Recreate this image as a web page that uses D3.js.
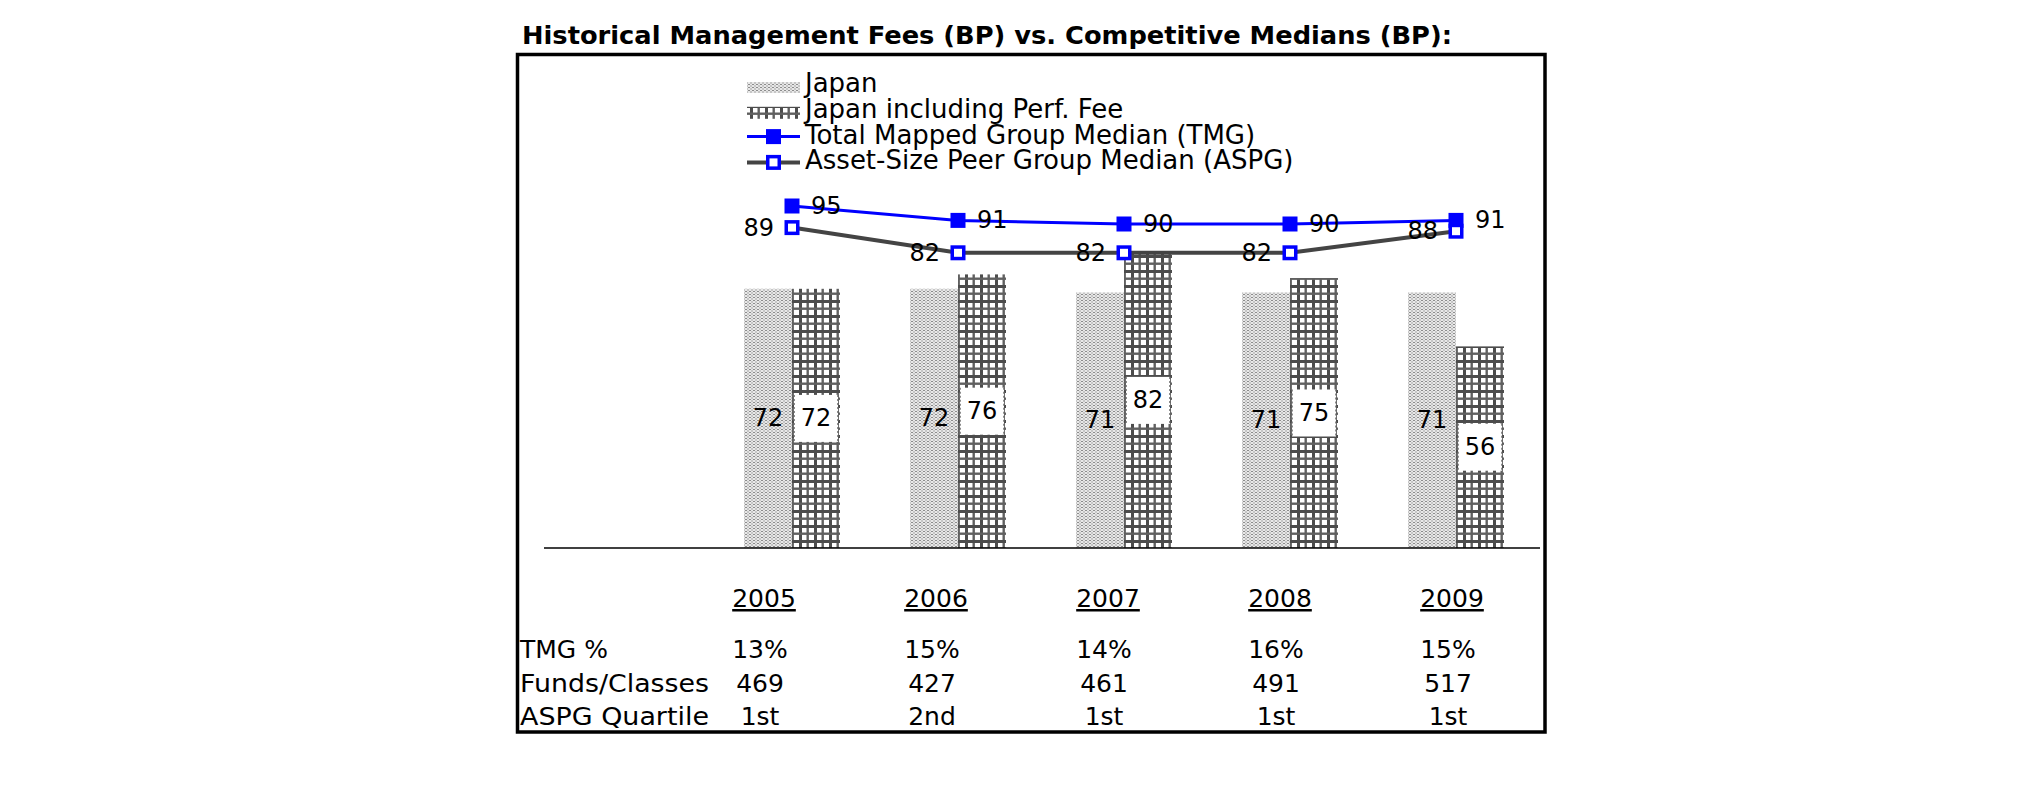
<!DOCTYPE html>
<html><head><meta charset="utf-8">
<script src="https://cdn.jsdelivr.net/npm/d3@7"></script>
<style>
html,body{margin:0;padding:0;background:#fff;}
svg{display:block;}
text{font-family:"DejaVu Sans",Verdana,sans-serif;fill:#000;}
</style></head>
<body>
<script>
// ---- data ----
const years = ["2005","2006","2007","2008","2009"];
const japan = [72, 72, 71, 71, 71];
const japanPerf = [72, 76, 82, 75, 56];
const tmgMedian = [95, 91, 90, 90, 91];
const aspgMedian = [89, 82, 82, 82, 88];
const tmgPct = ["13%","15%","14%","16%","15%"];
const fundsClasses = ["469","427","461","491","517"];
const aspgQuartile = ["1st","2nd","1st","1st","1st"];
const rowLabels = ["TMG %","Funds/Classes","ASPG Quartile"];
const seriesKeys = ["japan","perf"];
const legendLabels = ["Japan","Japan including Perf. Fee","Total Mapped Group Median (TMG)","Asset-Size Peer Group Median (ASPG)"];
const title = "Historical Management Fees (BP) vs. Competitive Medians (BP):";

const W = 2025, H = 806;
const svg = d3.select("body").append("svg").attr("width", W).attr("height", H);
const defs = svg.append("defs");

// patterns
const pj = defs.append("pattern").attr("id","pJapan").attr("patternUnits","userSpaceOnUse")
  .attr("width",4).attr("height",3);
pj.append("rect").attr("width",4).attr("height",3).attr("fill","#e8e8e8");
pj.append("rect").attr("x",0).attr("y",0).attr("width",2).attr("height",1).attr("fill","#8c8c8c");
pj.append("rect").attr("x",2).attr("y",1.5).attr("width",2).attr("height",1).attr("fill","#a4a4a4");

const pp = defs.append("pattern").attr("id","pPerf").attr("patternUnits","userSpaceOnUse")
  .attr("width",15).attr("height",15);
pp.append("rect").attr("width",15).attr("height",15).attr("fill","#ffffff");
pp.append("rect").attr("x",0).attr("y",0).attr("width",3).attr("height",15).attr("fill","#4c4c4c");
pp.append("rect").attr("x",7.5).attr("y",0).attr("width",2.4).attr("height",15).attr("fill","#606060");
pp.append("rect").attr("x",0).attr("y",0).attr("width",15).attr("height",3).attr("fill","#4c4c4c");
pp.append("rect").attr("x",0).attr("y",7.5).attr("width",15).attr("height",2.4).attr("fill","#606060");

// title
svg.append("text").attr("x",522).attr("y",44).attr("font-size",24).attr("font-weight","bold")
  .attr("textLength",930).attr("lengthAdjust","spacingAndGlyphs").text(title);

// frame
svg.append("rect").attr("x",517.5).attr("y",54.5).attr("width",1027.5).attr("height",677.5)
  .attr("fill","none").attr("stroke","#000").attr("stroke-width",3.5);

// scales
const x0 = d3.scaleBand().domain(years).range([709, 1539]).padding(0);
const half = x0.bandwidth()/2;
const x1 = d3.scaleBand().domain(seriesKeys).range([half-48, half+48]).padding(0);
const y = d3.scaleLinear().domain([0,100]).range([548,188]);

// bars
const barData = years.map((yr,i)=>({yr, japan: japan[i], perf: japanPerf[i]}));
const g = svg.append("g");
const grp = g.selectAll("g.year").data(barData).join("g").attr("class","year")
  .attr("transform", d=>`translate(${x0(d.yr)},0)`);
grp.append("rect").attr("x",x1("japan")).attr("width",x1.bandwidth())
  .attr("y",d=>y(d.japan)).attr("height",d=>y(0)-y(d.japan)).attr("fill","url(#pJapan)");
grp.append("rect").attr("x",x1("perf")).attr("width",x1.bandwidth())
  .attr("y",d=>y(d.perf)).attr("height",d=>y(0)-y(d.perf)).attr("fill","url(#pPerf)");

// japan labels
grp.append("text").attr("x",x1("japan")+x1.bandwidth()/2).attr("y",d=>(y(d.japan)+y(0))/2)
  .attr("text-anchor","middle").attr("dominant-baseline","central").attr("font-size",24)
  .text(d=>d.japan);
// perf labels with white box
const bh = 47;
grp.append("rect").attr("x",x1("perf")+2).attr("width",x1.bandwidth()-4)
  .attr("y",d=>(y(d.perf)+y(0))/2-bh/2).attr("height",bh).attr("fill","#fff");
grp.append("line").attr("x1",x1("perf")+2).attr("x2",x1("perf")+2)
  .attr("y1",d=>(y(d.perf)+y(0))/2-bh/2).attr("y2",d=>(y(d.perf)+y(0))/2+bh/2)
  .attr("stroke","#666").attr("stroke-width",1.5).attr("stroke-dasharray","2,2");
grp.append("line").attr("x1",x1("perf")+x1.bandwidth()-2).attr("x2",x1("perf")+x1.bandwidth()-2)
  .attr("y1",d=>(y(d.perf)+y(0))/2-bh/2).attr("y2",d=>(y(d.perf)+y(0))/2+bh/2)
  .attr("stroke","#666").attr("stroke-width",1.5).attr("stroke-dasharray","2,2");
grp.append("text").attr("x",x1("perf")+x1.bandwidth()/2).attr("y",d=>(y(d.perf)+y(0))/2)
  .attr("text-anchor","middle").attr("dominant-baseline","central").attr("font-size",24)
  .text(d=>d.perf);

// baseline
svg.append("line").attr("x1",544).attr("x2",1540).attr("y1",y(0)).attr("y2",y(0))
  .attr("stroke","#000").attr("stroke-width",1.5);

// lines
const cx = yr => x0(yr) + half;
const lineGen = d3.line().x(d=>cx(d.yr)).y(d=>y(d.v));
const tmgData = years.map((yr,i)=>({yr, v: tmgMedian[i]}));
const aspgData = years.map((yr,i)=>({yr, v: aspgMedian[i]}));
svg.append("path").datum(aspgData).attr("d",lineGen).attr("fill","none").attr("stroke","#444").attr("stroke-width",4);
svg.append("path").datum(tmgData).attr("d",lineGen).attr("fill","none").attr("stroke","#0000ff").attr("stroke-width",3);
const ms = 15;
svg.selectAll("rect.tmgm").data(tmgData).join("rect").attr("class","tmgm")
  .attr("x",d=>cx(d.yr)-ms/2).attr("y",d=>y(d.v)-ms/2).attr("width",ms).attr("height",ms).attr("fill","#0000ff");
svg.selectAll("rect.aspgm").data(aspgData).join("rect").attr("class","aspgm")
  .attr("x",d=>cx(d.yr)-ms/2+1.75).attr("y",d=>y(d.v)-ms/2+1.75).attr("width",ms-3.5).attr("height",ms-3.5)
  .attr("fill","#fff").attr("stroke","#0000ff").attr("stroke-width",3.5);
svg.selectAll("text.tmgl").data(tmgData).join("text").attr("class","tmgl")
  .attr("x",d=>cx(d.yr)+19).attr("y",d=>y(d.v)).attr("dominant-baseline","central").attr("font-size",24)
  .text(d=>d.v);
svg.selectAll("text.aspgl").data(aspgData).join("text").attr("class","aspgl")
  .attr("x",d=>cx(d.yr)-18).attr("y",d=>y(d.v)).attr("text-anchor","end").attr("dominant-baseline","central").attr("font-size",24)
  .text(d=>d.v);

// legend
const lg = svg.append("g");
const ly = i => 92 + 25.8*i;
const lx0 = 747, lx1 = 800;
lg.append("rect").attr("x",lx0).attr("y",ly(0)-10).attr("width",lx1-lx0).attr("height",11).attr("fill","url(#pJapan)");
lg.append("rect").attr("x",lx0).attr("y",ly(1)-11).attr("width",lx1-lx0).attr("height",12).attr("fill","url(#pPerf)");
lg.append("line").attr("x1",lx0).attr("x2",lx1).attr("y1",ly(2)-7).attr("y2",ly(2)-7).attr("stroke","#0000ff").attr("stroke-width",3);
lg.append("rect").attr("x",(lx0+lx1)/2-7.5).attr("y",ly(2)-14.5).attr("width",15).attr("height",15).attr("fill","#0000ff");
lg.append("line").attr("x1",lx0).attr("x2",lx1).attr("y1",ly(3)-7).attr("y2",ly(3)-7).attr("stroke","#444").attr("stroke-width",4);
lg.append("rect").attr("x",(lx0+lx1)/2-5.75).attr("y",ly(3)-12.75).attr("width",11.5).attr("height",11.5)
  .attr("fill","#fff").attr("stroke","#0000ff").attr("stroke-width",3.5);
lg.selectAll("text").data(legendLabels).join("text").attr("x",805).attr("y",(d,i)=>ly(i))
  .attr("font-size",26).text(d=>d);

// table
const tx = d3.scalePoint().domain(years).range([762, 1450]);
svg.selectAll("text.yr").data(years).join("text").attr("class","yr")
  .attr("x",d=>tx(d)+2).attr("y",607).attr("text-anchor","middle").attr("font-size",25)
  .attr("text-decoration","underline").text(d=>d);
const rows = [tmgPct, fundsClasses, aspgQuartile];
const rowY = [658, 692, 725];
const rowLen = [null, 189, 189];
rows.forEach((r,ri)=>{
  const t = svg.append("text").attr("x",520).attr("y",rowY[ri]).attr("font-size",25).text(rowLabels[ri]);
  if (rowLen[ri]) t.attr("textLength",rowLen[ri]).attr("lengthAdjust","spacingAndGlyphs");
  svg.selectAll(null).data(r).join("text")
    .attr("x",(d,i)=>tx(years[i])-2).attr("y",rowY[ri]).attr("text-anchor","middle").attr("font-size",25)
    .text(d=>d);
});
</script>
</body></html>
